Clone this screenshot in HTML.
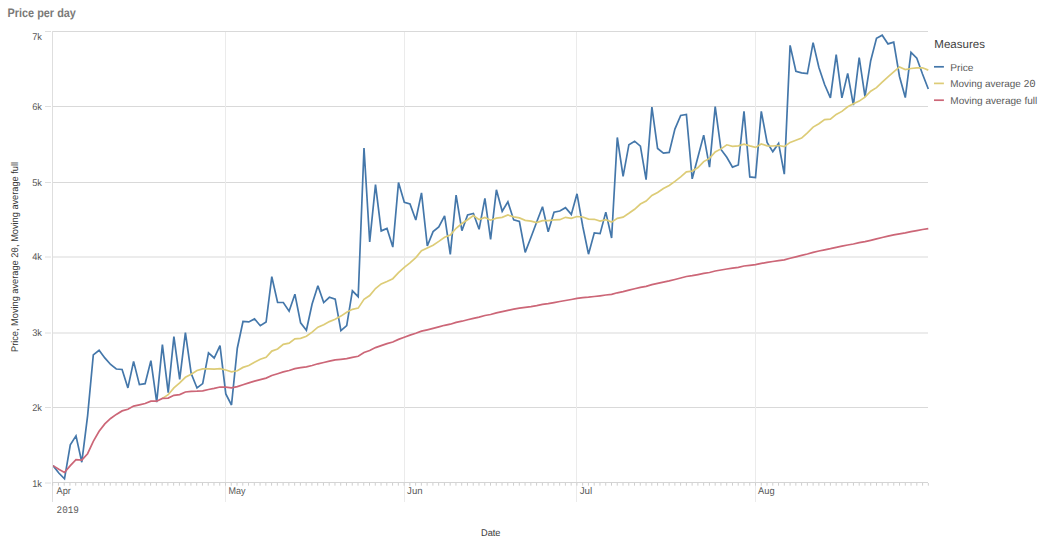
<!DOCTYPE html>
<html><head><meta charset="utf-8"><title>Price per day</title>
<style>
html,body{margin:0;padding:0;background:#fff;}
body{width:1048px;height:542px;overflow:hidden;font-family:"Liberation Sans",sans-serif;}
svg{display:block;}
text{font-family:"Liberation Sans",sans-serif;text-rendering:geometricPrecision;}
.m{font-family:"Liberation Mono",monospace;}
</style></head><body>
<svg width="1048" height="542" viewBox="0 0 1048 542">
<rect width="1048" height="542" fill="#ffffff"/>
<text x="7.5" y="16.6" font-size="12.2" font-weight="bold" fill="#7b7a78" textLength="68.4" lengthAdjust="spacingAndGlyphs">Price per day</text>
<g stroke="#d9d9d9" stroke-width="1">
<line x1="53" y1="31.50" x2="928" y2="31.50"/>
<line x1="53" y1="106.50" x2="928" y2="106.50"/>
<line x1="53" y1="182.50" x2="928" y2="182.50"/>
<line x1="53" y1="257.00" x2="928" y2="257.00"/>
<line x1="53" y1="333.00" x2="928" y2="333.00"/>
<line x1="53" y1="407.50" x2="928" y2="407.50"/>
</g>
<g stroke="#dedede" stroke-width="1">
<line x1="45" y1="31.50" x2="51" y2="31.50"/>
<line x1="45" y1="106.50" x2="51" y2="106.50"/>
<line x1="45" y1="182.50" x2="51" y2="182.50"/>
<line x1="45" y1="257.00" x2="51" y2="257.00"/>
<line x1="45" y1="333.00" x2="51" y2="333.00"/>
<line x1="45" y1="407.50" x2="51" y2="407.50"/>
<line x1="45" y1="483.00" x2="51" y2="483.00"/>
</g>
<g shape-rendering="crispEdges">
<rect x="225" y="32" width="1" height="470" fill="#ebebeb"/>
<rect x="404" y="32" width="1" height="470" fill="#ebebeb"/>
<rect x="576" y="32" width="1" height="470" fill="#ebebeb"/>
<rect x="755" y="32" width="1" height="470" fill="#ebebeb"/>
<rect x="52" y="31" width="1" height="471" fill="#dedede"/>
<rect x="52" y="482" width="876" height="1" fill="#d4d4d4"/>
</g>
<g stroke="#cfcfcf" stroke-width="1">
<line x1="52.67" y1="483" x2="52.67" y2="485.7"/>
<line x1="58.43" y1="483" x2="58.43" y2="485.7"/>
<line x1="64.19" y1="483" x2="64.19" y2="485.7"/>
<line x1="69.95" y1="483" x2="69.95" y2="485.7"/>
<line x1="75.71" y1="483" x2="75.71" y2="485.7"/>
<line x1="81.47" y1="483" x2="81.47" y2="485.7"/>
<line x1="87.24" y1="483" x2="87.24" y2="485.7"/>
<line x1="93.00" y1="483" x2="93.00" y2="485.7"/>
<line x1="98.76" y1="483" x2="98.76" y2="485.7"/>
<line x1="104.52" y1="483" x2="104.52" y2="485.7"/>
<line x1="110.28" y1="483" x2="110.28" y2="485.7"/>
<line x1="116.04" y1="483" x2="116.04" y2="485.7"/>
<line x1="121.80" y1="483" x2="121.80" y2="485.7"/>
<line x1="127.56" y1="483" x2="127.56" y2="485.7"/>
<line x1="133.32" y1="483" x2="133.32" y2="485.7"/>
<line x1="139.09" y1="483" x2="139.09" y2="485.7"/>
<line x1="144.85" y1="483" x2="144.85" y2="485.7"/>
<line x1="150.61" y1="483" x2="150.61" y2="485.7"/>
<line x1="156.37" y1="483" x2="156.37" y2="485.7"/>
<line x1="162.13" y1="483" x2="162.13" y2="485.7"/>
<line x1="167.89" y1="483" x2="167.89" y2="485.7"/>
<line x1="173.65" y1="483" x2="173.65" y2="485.7"/>
<line x1="179.41" y1="483" x2="179.41" y2="485.7"/>
<line x1="185.17" y1="483" x2="185.17" y2="485.7"/>
<line x1="190.93" y1="483" x2="190.93" y2="485.7"/>
<line x1="196.69" y1="483" x2="196.69" y2="485.7"/>
<line x1="202.46" y1="483" x2="202.46" y2="485.7"/>
<line x1="208.22" y1="483" x2="208.22" y2="485.7"/>
<line x1="213.98" y1="483" x2="213.98" y2="485.7"/>
<line x1="219.74" y1="483" x2="219.74" y2="485.7"/>
<line x1="225.50" y1="483" x2="225.50" y2="485.7"/>
<line x1="231.26" y1="483" x2="231.26" y2="485.7"/>
<line x1="237.02" y1="483" x2="237.02" y2="485.7"/>
<line x1="242.78" y1="483" x2="242.78" y2="485.7"/>
<line x1="248.54" y1="483" x2="248.54" y2="485.7"/>
<line x1="254.31" y1="483" x2="254.31" y2="485.7"/>
<line x1="260.07" y1="483" x2="260.07" y2="485.7"/>
<line x1="265.83" y1="483" x2="265.83" y2="485.7"/>
<line x1="271.59" y1="483" x2="271.59" y2="485.7"/>
<line x1="277.35" y1="483" x2="277.35" y2="485.7"/>
<line x1="283.11" y1="483" x2="283.11" y2="485.7"/>
<line x1="288.87" y1="483" x2="288.87" y2="485.7"/>
<line x1="294.63" y1="483" x2="294.63" y2="485.7"/>
<line x1="300.39" y1="483" x2="300.39" y2="485.7"/>
<line x1="306.15" y1="483" x2="306.15" y2="485.7"/>
<line x1="311.92" y1="483" x2="311.92" y2="485.7"/>
<line x1="317.68" y1="483" x2="317.68" y2="485.7"/>
<line x1="323.44" y1="483" x2="323.44" y2="485.7"/>
<line x1="329.20" y1="483" x2="329.20" y2="485.7"/>
<line x1="334.96" y1="483" x2="334.96" y2="485.7"/>
<line x1="340.72" y1="483" x2="340.72" y2="485.7"/>
<line x1="346.48" y1="483" x2="346.48" y2="485.7"/>
<line x1="352.24" y1="483" x2="352.24" y2="485.7"/>
<line x1="358.00" y1="483" x2="358.00" y2="485.7"/>
<line x1="363.76" y1="483" x2="363.76" y2="485.7"/>
<line x1="369.53" y1="483" x2="369.53" y2="485.7"/>
<line x1="375.29" y1="483" x2="375.29" y2="485.7"/>
<line x1="381.05" y1="483" x2="381.05" y2="485.7"/>
<line x1="386.81" y1="483" x2="386.81" y2="485.7"/>
<line x1="392.57" y1="483" x2="392.57" y2="485.7"/>
<line x1="398.33" y1="483" x2="398.33" y2="485.7"/>
<line x1="404.09" y1="483" x2="404.09" y2="485.7"/>
<line x1="409.85" y1="483" x2="409.85" y2="485.7"/>
<line x1="415.61" y1="483" x2="415.61" y2="485.7"/>
<line x1="421.37" y1="483" x2="421.37" y2="485.7"/>
<line x1="427.14" y1="483" x2="427.14" y2="485.7"/>
<line x1="432.90" y1="483" x2="432.90" y2="485.7"/>
<line x1="438.66" y1="483" x2="438.66" y2="485.7"/>
<line x1="444.42" y1="483" x2="444.42" y2="485.7"/>
<line x1="450.18" y1="483" x2="450.18" y2="485.7"/>
<line x1="455.94" y1="483" x2="455.94" y2="485.7"/>
<line x1="461.70" y1="483" x2="461.70" y2="485.7"/>
<line x1="467.46" y1="483" x2="467.46" y2="485.7"/>
<line x1="473.22" y1="483" x2="473.22" y2="485.7"/>
<line x1="478.98" y1="483" x2="478.98" y2="485.7"/>
<line x1="484.75" y1="483" x2="484.75" y2="485.7"/>
<line x1="490.51" y1="483" x2="490.51" y2="485.7"/>
<line x1="496.27" y1="483" x2="496.27" y2="485.7"/>
<line x1="502.03" y1="483" x2="502.03" y2="485.7"/>
<line x1="507.79" y1="483" x2="507.79" y2="485.7"/>
<line x1="513.55" y1="483" x2="513.55" y2="485.7"/>
<line x1="519.31" y1="483" x2="519.31" y2="485.7"/>
<line x1="525.07" y1="483" x2="525.07" y2="485.7"/>
<line x1="530.83" y1="483" x2="530.83" y2="485.7"/>
<line x1="536.59" y1="483" x2="536.59" y2="485.7"/>
<line x1="542.36" y1="483" x2="542.36" y2="485.7"/>
<line x1="548.12" y1="483" x2="548.12" y2="485.7"/>
<line x1="553.88" y1="483" x2="553.88" y2="485.7"/>
<line x1="559.64" y1="483" x2="559.64" y2="485.7"/>
<line x1="565.40" y1="483" x2="565.40" y2="485.7"/>
<line x1="571.16" y1="483" x2="571.16" y2="485.7"/>
<line x1="576.92" y1="483" x2="576.92" y2="485.7"/>
<line x1="582.68" y1="483" x2="582.68" y2="485.7"/>
<line x1="588.44" y1="483" x2="588.44" y2="485.7"/>
<line x1="594.20" y1="483" x2="594.20" y2="485.7"/>
<line x1="599.96" y1="483" x2="599.96" y2="485.7"/>
<line x1="605.73" y1="483" x2="605.73" y2="485.7"/>
<line x1="611.49" y1="483" x2="611.49" y2="485.7"/>
<line x1="617.25" y1="483" x2="617.25" y2="485.7"/>
<line x1="623.01" y1="483" x2="623.01" y2="485.7"/>
<line x1="628.77" y1="483" x2="628.77" y2="485.7"/>
<line x1="634.53" y1="483" x2="634.53" y2="485.7"/>
<line x1="640.29" y1="483" x2="640.29" y2="485.7"/>
<line x1="646.05" y1="483" x2="646.05" y2="485.7"/>
<line x1="651.81" y1="483" x2="651.81" y2="485.7"/>
<line x1="657.57" y1="483" x2="657.57" y2="485.7"/>
<line x1="663.34" y1="483" x2="663.34" y2="485.7"/>
<line x1="669.10" y1="483" x2="669.10" y2="485.7"/>
<line x1="674.86" y1="483" x2="674.86" y2="485.7"/>
<line x1="680.62" y1="483" x2="680.62" y2="485.7"/>
<line x1="686.38" y1="483" x2="686.38" y2="485.7"/>
<line x1="692.14" y1="483" x2="692.14" y2="485.7"/>
<line x1="697.90" y1="483" x2="697.90" y2="485.7"/>
<line x1="703.66" y1="483" x2="703.66" y2="485.7"/>
<line x1="709.42" y1="483" x2="709.42" y2="485.7"/>
<line x1="715.18" y1="483" x2="715.18" y2="485.7"/>
<line x1="720.95" y1="483" x2="720.95" y2="485.7"/>
<line x1="726.71" y1="483" x2="726.71" y2="485.7"/>
<line x1="732.47" y1="483" x2="732.47" y2="485.7"/>
<line x1="738.23" y1="483" x2="738.23" y2="485.7"/>
<line x1="743.99" y1="483" x2="743.99" y2="485.7"/>
<line x1="749.75" y1="483" x2="749.75" y2="485.7"/>
<line x1="755.51" y1="483" x2="755.51" y2="485.7"/>
<line x1="761.27" y1="483" x2="761.27" y2="485.7"/>
<line x1="767.03" y1="483" x2="767.03" y2="485.7"/>
<line x1="772.79" y1="483" x2="772.79" y2="485.7"/>
<line x1="778.56" y1="483" x2="778.56" y2="485.7"/>
<line x1="784.32" y1="483" x2="784.32" y2="485.7"/>
<line x1="790.08" y1="483" x2="790.08" y2="485.7"/>
<line x1="795.84" y1="483" x2="795.84" y2="485.7"/>
<line x1="801.60" y1="483" x2="801.60" y2="485.7"/>
<line x1="807.36" y1="483" x2="807.36" y2="485.7"/>
<line x1="813.12" y1="483" x2="813.12" y2="485.7"/>
<line x1="818.88" y1="483" x2="818.88" y2="485.7"/>
<line x1="824.64" y1="483" x2="824.64" y2="485.7"/>
<line x1="830.40" y1="483" x2="830.40" y2="485.7"/>
<line x1="836.17" y1="483" x2="836.17" y2="485.7"/>
<line x1="841.93" y1="483" x2="841.93" y2="485.7"/>
<line x1="847.69" y1="483" x2="847.69" y2="485.7"/>
<line x1="853.45" y1="483" x2="853.45" y2="485.7"/>
<line x1="859.21" y1="483" x2="859.21" y2="485.7"/>
<line x1="864.97" y1="483" x2="864.97" y2="485.7"/>
<line x1="870.73" y1="483" x2="870.73" y2="485.7"/>
<line x1="876.49" y1="483" x2="876.49" y2="485.7"/>
<line x1="882.25" y1="483" x2="882.25" y2="485.7"/>
<line x1="888.01" y1="483" x2="888.01" y2="485.7"/>
<line x1="893.78" y1="483" x2="893.78" y2="485.7"/>
<line x1="899.54" y1="483" x2="899.54" y2="485.7"/>
<line x1="905.30" y1="483" x2="905.30" y2="485.7"/>
<line x1="911.06" y1="483" x2="911.06" y2="485.7"/>
<line x1="916.82" y1="483" x2="916.82" y2="485.7"/>
<line x1="922.58" y1="483" x2="922.58" y2="485.7"/>
<line x1="928.34" y1="483" x2="928.34" y2="485.7"/>
</g>
<text x="32.2" y="40.0" font-size="9.7" fill="#595959" textLength="9.8" lengthAdjust="spacingAndGlyphs">7k</text>
<text x="32.2" y="109.9" font-size="9.7" fill="#595959" textLength="9.8" lengthAdjust="spacingAndGlyphs">6k</text>
<text x="32.2" y="185.9" font-size="9.7" fill="#595959" textLength="9.8" lengthAdjust="spacingAndGlyphs">5k</text>
<text x="32.2" y="260.4" font-size="9.7" fill="#595959" textLength="9.8" lengthAdjust="spacingAndGlyphs">4k</text>
<text x="32.2" y="336.4" font-size="9.7" fill="#595959" textLength="9.8" lengthAdjust="spacingAndGlyphs">3k</text>
<text x="32.2" y="410.9" font-size="9.7" fill="#595959" textLength="9.8" lengthAdjust="spacingAndGlyphs">2k</text>
<text x="32.2" y="486.8" font-size="9.7" fill="#595959" textLength="9.8" lengthAdjust="spacingAndGlyphs">1k</text>
<text x="56.5" y="493.9" font-size="9.7" fill="#595959" textLength="14.4" lengthAdjust="spacingAndGlyphs">Apr</text>
<text x="228.4" y="493.9" font-size="9.7" fill="#595959" textLength="17.0" lengthAdjust="spacingAndGlyphs">May</text>
<text x="407.1" y="493.9" font-size="9.7" fill="#595959" textLength="15.5" lengthAdjust="spacingAndGlyphs">Jun</text>
<text x="579.7" y="493.9" font-size="9.7" fill="#595959" textLength="12.6" lengthAdjust="spacingAndGlyphs">Jul</text>
<text x="758.1" y="493.9" font-size="9.7" fill="#595959" textLength="16.6" lengthAdjust="spacingAndGlyphs">Aug</text>
<text class="m" x="56.6" y="513" font-size="10.2" fill="#595959" textLength="22.3" lengthAdjust="spacingAndGlyphs">2019</text>
<text x="481.0" y="535.8" font-size="9.8" fill="#3a3a3a" textLength="19.5" lengthAdjust="spacingAndGlyphs">Date</text>
<text transform="translate(17.9,352) rotate(-90)" font-size="9.7" fill="#363636" textLength="190" lengthAdjust="spacingAndGlyphs">Price, Moving average 2<tspan class="m" font-size="10">0</tspan>, Moving average full</text>
<defs><clipPath id="pc"><rect x="53" y="28" width="876" height="460"/></clipPath></defs>
<g clip-path="url(#pc)" fill="none" stroke-width="1.7" stroke-linejoin="miter" stroke-miterlimit="3" stroke-linecap="butt">
<polyline stroke="#4477aa" points="53.0,465.6 58.8,473.0 64.5,478.8 70.3,444.9 76.0,435.9 81.8,462.2 87.6,415.8 93.3,354.9 99.1,350.3 104.8,357.9 110.6,364.5 116.3,369.0 122.1,369.5 127.9,387.9 133.6,361.4 139.4,384.6 145.1,383.7 150.9,360.6 156.7,402.1 162.4,344.7 168.2,392.7 173.9,336.7 179.7,379.4 185.4,332.6 191.2,373.5 197.0,388.0 202.7,383.6 208.5,352.8 214.2,358.0 220.0,345.6 225.8,393.9 231.5,405.0 237.3,348.2 243.0,321.5 248.8,321.9 254.5,318.9 260.3,325.7 266.1,322.0 271.8,276.7 277.6,302.4 283.3,302.5 289.1,311.2 294.9,294.2 300.6,322.8 306.4,330.2 312.1,304.0 317.9,285.7 323.7,302.6 329.4,297.3 335.2,299.2 340.9,330.6 346.7,325.6 352.4,290.8 358.2,296.7 364.0,148.0 369.7,241.9 375.5,184.6 381.2,230.9 387.0,228.4 392.8,247.1 398.5,182.6 404.3,202.3 410.0,204.0 415.8,220.0 421.5,192.9 427.3,246.0 433.1,231.6 438.8,226.9 444.6,215.8 450.3,254.4 456.1,195.1 461.9,230.7 467.6,214.9 473.4,213.4 479.1,229.3 484.9,198.4 490.6,239.4 496.4,189.8 502.2,211.3 507.9,201.9 513.7,219.9 519.4,221.5 525.2,252.4 531.0,237.3 536.7,222.0 542.5,206.8 548.2,231.8 554.0,212.2 559.8,211.0 565.5,207.7 571.3,214.4 577.0,193.8 582.8,226.5 588.5,254.2 594.3,232.9 600.1,233.6 605.8,212.1 611.6,238.0 617.3,137.5 623.1,176.3 628.9,144.7 634.6,141.2 640.4,146.2 646.1,179.6 651.9,107.1 657.6,148.5 663.4,153.2 669.2,152.4 674.9,129.1 680.7,115.4 686.4,114.5 692.2,178.8 698.0,156.8 703.7,135.1 709.5,167.2 715.2,106.7 721.0,149.5 726.8,157.3 732.5,167.1 738.3,165.0 744.0,111.4 749.8,176.9 755.5,177.5 761.3,111.4 767.1,142.4 772.8,151.6 778.6,143.4 784.3,174.2 790.1,45.4 795.9,71.3 801.6,72.8 807.4,73.6 813.1,42.6 818.9,67.4 824.6,84.5 830.4,97.9 836.2,54.7 841.9,97.9 847.7,73.4 853.4,105.1 859.2,57.5 865.0,96.7 870.7,60.7 876.5,38.3 882.2,35.2 888.0,43.9 893.7,42.2 899.5,76.5 905.3,97.6 911.0,52.3 916.8,58.2 922.5,74.0 928.3,89.0"/>
<polyline stroke="#ddcc77" points="162.4,398.4 168.2,394.7 173.9,387.9 179.7,382.9 185.4,377.3 191.2,374.2 197.0,370.5 202.7,368.9 208.5,368.8 214.2,369.2 220.0,368.6 225.8,370.0 231.5,371.8 237.3,370.8 243.0,367.4 248.8,365.5 254.5,362.2 260.3,359.3 266.1,357.3 271.8,351.1 277.6,349.0 283.3,344.4 289.1,343.2 294.9,338.9 300.6,338.4 306.4,336.3 312.1,332.1 317.9,327.2 323.7,324.7 329.4,321.6 335.2,319.3 340.9,316.1 346.7,312.2 352.4,309.3 358.2,308.1 364.0,299.4 369.7,295.5 375.5,288.5 381.2,283.9 387.0,281.5 392.8,278.7 398.5,272.7 404.3,267.3 410.0,262.8 415.8,257.6 421.5,250.8 427.3,247.9 433.1,245.2 438.8,241.4 444.6,237.3 450.3,235.1 456.1,228.3 461.9,223.5 467.6,219.7 473.4,215.6 479.1,219.6 484.9,217.5 490.6,220.2 496.4,218.1 502.2,217.3 507.9,215.0 513.7,216.9 519.4,217.9 525.2,220.3 531.0,221.1 536.7,222.6 542.5,220.6 548.2,220.7 554.0,219.9 559.8,219.7 565.5,217.3 571.3,218.3 577.0,216.5 582.8,217.0 588.5,219.1 594.3,219.3 600.1,221.0 605.8,219.7 611.6,222.1 617.3,218.4 623.1,217.1 628.9,213.3 634.6,209.3 640.4,204.0 646.1,201.1 651.9,195.4 657.6,192.5 663.4,188.5 669.2,185.5 674.9,181.4 680.7,176.8 686.4,171.8 692.2,171.1 698.0,167.6 703.7,161.6 709.5,158.4 715.2,152.0 721.0,148.9 726.8,144.8 732.5,146.3 738.3,145.8 744.0,144.1 749.8,145.9 755.5,147.4 761.3,144.0 767.1,145.8 772.8,146.0 778.6,145.5 784.3,146.6 790.1,142.4 795.9,140.2 801.6,138.1 807.4,132.8 813.1,127.1 818.9,123.7 824.6,119.6 830.4,119.2 836.2,114.4 841.9,111.4 847.7,106.8 853.4,103.8 859.2,101.1 865.0,97.1 870.7,91.2 876.5,87.6 882.2,82.2 888.0,76.8 893.7,71.8 899.5,66.9 905.3,69.5 911.0,68.5 916.8,67.8 922.5,67.8 928.3,70.1"/>
<polyline stroke="#cc6677" points="53.0,465.6 58.8,469.3 64.5,472.5 70.3,465.6 76.0,459.6 81.8,460.1 87.6,453.7 93.3,441.4 99.1,431.3 104.8,423.9 110.6,418.5 116.3,414.4 122.1,410.9 127.9,409.3 133.6,406.1 139.4,404.8 145.1,403.5 150.9,401.1 156.7,401.2 162.4,398.4 168.2,398.1 173.9,395.3 179.7,394.6 185.4,392.0 191.2,391.3 197.0,391.2 202.7,390.9 208.5,389.5 214.2,388.4 220.0,387.0 225.8,387.2 231.5,387.8 237.3,386.6 243.0,384.7 248.8,382.9 254.5,381.1 260.3,379.6 266.1,378.1 271.8,375.5 277.6,373.7 283.3,371.9 289.1,370.5 294.9,368.7 300.6,367.7 306.4,366.8 312.1,365.5 317.9,363.8 323.7,362.5 329.4,361.2 335.2,359.9 340.9,359.3 346.7,358.7 352.4,357.4 358.2,356.3 364.0,352.5 369.7,350.5 375.5,347.6 381.2,345.6 387.0,343.6 392.8,342.0 398.5,339.4 404.3,337.2 410.0,335.1 415.8,333.3 421.5,331.1 427.3,329.8 433.1,328.4 438.8,326.9 444.6,325.3 450.3,324.2 456.1,322.4 461.9,321.2 467.6,319.7 473.4,318.3 479.1,317.1 484.9,315.5 490.6,314.5 496.4,312.9 502.2,311.6 507.9,310.3 513.7,309.2 519.4,308.1 525.2,307.4 531.0,306.6 536.7,305.6 542.5,304.4 548.2,303.6 554.0,302.6 559.8,301.5 565.5,300.5 571.3,299.5 577.0,298.4 582.8,297.6 588.5,297.2 594.3,296.5 600.1,295.8 605.8,295.0 611.6,294.4 617.3,292.8 623.1,291.6 628.9,290.2 634.6,288.7 640.4,287.3 646.1,286.3 651.9,284.6 657.6,283.3 663.4,282.1 669.2,280.9 674.9,279.5 680.7,278.0 686.4,276.5 692.2,275.7 698.0,274.6 703.7,273.4 709.5,272.5 715.2,271.0 721.0,270.0 726.8,269.0 732.5,268.2 738.3,267.3 744.0,266.0 749.8,265.3 755.5,264.6 761.3,263.4 767.1,262.4 772.8,261.5 778.6,260.6 784.3,259.9 790.1,258.2 795.9,256.8 801.6,255.4 807.4,254.0 813.1,252.4 818.9,251.0 824.6,249.8 830.4,248.7 836.2,247.3 841.9,246.2 847.7,245.0 853.4,244.0 859.2,242.6 865.0,241.6 870.7,240.3 876.5,238.9 882.2,237.5 888.0,236.2 893.7,234.9 899.5,233.8 905.3,232.9 911.0,231.7 916.8,230.6 922.5,229.5 928.3,228.6"/>
</g>
<text x="934.3" y="48.1" font-size="11.5" fill="#404040" textLength="50.6" lengthAdjust="spacingAndGlyphs">Measures</text>
<rect x="934" y="65.95" width="9.9" height="1.7" fill="#4477aa"/>
<text x="950.3" y="70.5" font-size="10" fill="#595959" textLength="23.2" lengthAdjust="spacingAndGlyphs">Price</text>
<rect x="934" y="82.55" width="9.9" height="1.7" fill="#ddcc77"/>
<text x="950.3" y="87.1" font-size="10" fill="#595959" textLength="85.3" lengthAdjust="spacingAndGlyphs">Moving average 2<tspan class="m" font-size="10.8">0</tspan></text>
<rect x="934" y="99.35" width="9.9" height="1.7" fill="#cc6677"/>
<text x="950.3" y="103.9" font-size="10" fill="#595959" textLength="86.9" lengthAdjust="spacingAndGlyphs">Moving average full</text>
</svg>
</body></html>
